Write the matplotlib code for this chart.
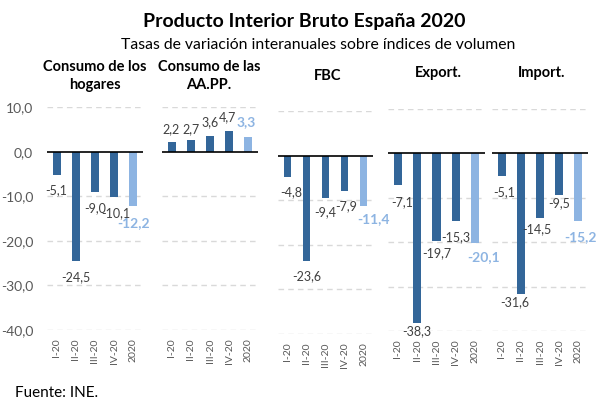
import matplotlib.pyplot as plt

plt.rcParams['font.family'] = ['Lato', 'DejaVu Sans']

# datos (tasas de variación interanual, %)
periodos = ["I-20", "II-20", "III-20", "IV-20", "2020"]
titulos = ["Consumo de los\nhogares", "Consumo de las\nAA.PP.", "FBC", "Export.", "Import."]
hogares = [-5.1, -24.5, -9.0, -10.1, -12.2]
aapp = [2.2, 2.7, 3.6, 4.7, 3.3]
fbc = [-4.8, -23.6, -9.4, -7.9, -11.4]
export = [-7.1, -38.3, -19.7, -15.3, -20.1]
importa = [-5.1, -31.6, -14.5, -9.5, -15.2]
series = [hogares, aapp, fbc, export, importa]

W, H = 608, 401
# posición de cada panel en pixeles: (izq, arriba, ancho, abajo)
paneles = [(47, 107.3, 96, 330), (162, 107.3, 96, 330), (278, 111, 95, 334),
           (388, 108.7, 97, 331), (492, 108.7, 96, 331)]
# posición de los títulos de grupo (x, y) en pixeles
pos_titulos = [(94.5, 76), (209, 76), (328, 76), (438, 73), (542, 73)]
# desplazamiento de etiquetas (dx, dy) en pixeles respecto al extremo de la barra
desp = [
    [(0, -16), (0, -16), (0, -16), (2, -16), (0, -17)],
    [(-1, 13), (0, 11), (0, 14), (-2, 14), (-2, 15)],
    [(4, -15), (0, -15), (0, -15), (2, -15), (10, -13)],
    [(4, -17), (0, -8), (0, -12), (0, -16), (8, -15)],
    [(3, -16), (-6, -9), (-3, -12), (0, -8), (2, -16)],
]

oscuro = '#336699'
claro = '#8DB4E2'
gris = '#595959'

fig = plt.figure(figsize=(W / 100, H / 100), dpi=100)

for i, vals in enumerate(series):
    l, t, w, b = paneles[i]
    ax = fig.add_axes([l / W, 1 - b / H, w / W, (b - t) / H])
    ax.patch.set_visible(False)
    x = range(len(periodos))
    colores = [oscuro] * 4 + [claro]
    ax.bar(x, vals, width=0.42, color=colores, zorder=3)
    ax.set_xlim(-0.5, 4.5)
    ax.set_ylim(-40, 10)
    for yv in [10, -10, -20, -30, -40]:
        ax.axhline(yv, color='#D9D9D9', lw=1, ls=(0, (4, 3)), zorder=1)
    ax.axhline(0, color='black', lw=1.2, zorder=4)
    for s in ax.spines.values():
        s.set_visible(False)
    ax.set_xticks(list(x))
    ax.set_xticklabels(periodos, rotation=90, fontsize=7.5, color=gris)
    ax.tick_params(axis='x', length=0, pad=6)
    if i == 0:
        ax.set_yticks([10, 0, -10, -20, -30, -40])
        ax.set_yticklabels(["10,0", "0,0", "-10,0", "-20,0", "-30,0", "-40,0"],
                           fontsize=10, color=gris)
        ax.tick_params(axis='y', length=0, pad=10)
    else:
        ax.set_yticks([])
    for j, v in enumerate(vals):
        txt = f"{v:.1f}".replace('.', ',')
        dx, dy = desp[i][j]
        if j == 4:
            col, peso, tam = claro, 'bold', 10
        else:
            col, peso, tam = '#404040', 'normal', 9
        ax.annotate(txt, (j, v), xytext=(dx, dy), textcoords='offset pixels',
                    ha='center', va='center', fontsize=tam, color=col,
                    fontweight=peso, zorder=5, annotation_clip=False)
    tx, ty = pos_titulos[i]
    fig.text(tx / W, 1 - ty / H, titulos[i], ha='center', va='center',
             fontsize=10.5, fontweight='bold', linespacing=1.3)

fig.text(304 / W, 1 - 21.7 / H, "Producto Interior Bruto España 2020",
         ha='center', va='center', fontsize=14, fontweight='bold')
fig.text(318 / W, 1 - 45 / H, "Tasas de variación interanuales sobre índices de volumen",
         ha='center', va='center', fontsize=11.3)
fig.text(15 / W, 1 - 393 / H, "Fuente: INE.", ha='left', va='center', fontsize=11)

fig.savefig('out.png', dpi=100)
